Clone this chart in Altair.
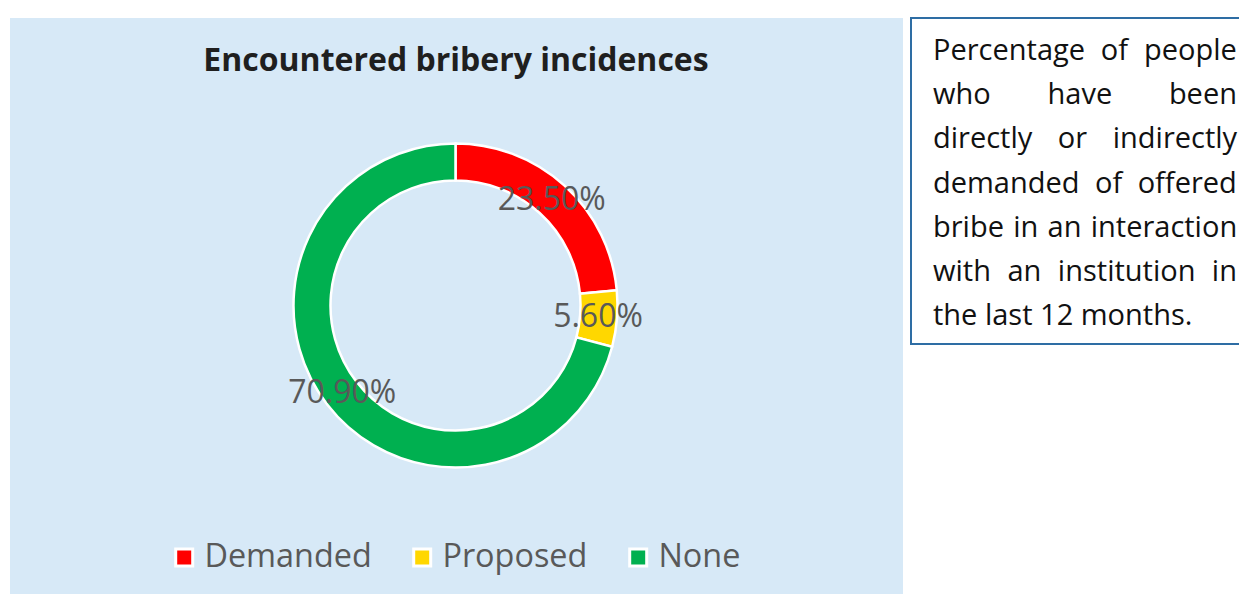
import altair as alt
import pandas as pd

# ---- data ----
categories = ["Demanded", "Proposed", "None"]
shares = [23.5, 5.6, 70.9]
share_labels = ["23.50%", "5.60%", "70.90%"]
colors = ["#FF0000", "#FFD700", "#00B050"]
title_text = "Encountered bribery incidences"
note_lines = [
    "Percentage of people",
    "who have been",
    "directly or indirectly",
    "demanded of offered",
    "bribe in an interaction",
    "with an institution in",
    "the last 12 months.",
]

# ---- layout ----
W, H = 1231, 586
CX, CY = 447.5, 297.5
FONT = "Open Sans"
NOTE_SIZE = 29
NOTE_LEFT, NOTE_RIGHT = 925, 1229
NOTE_BASE0, NOTE_STEP = 52, 44.2

# approximate Open Sans advance widths (em)
OS_W = {
    "a": .556, "b": .613, "c": .476, "d": .613, "e": .561, "f": .339, "g": .548,
    "h": .614, "i": .253, "j": .253, "k": .525, "l": .253, "m": .930, "n": .614,
    "o": .604, "p": .613, "q": .613, "r": .408, "s": .477, "t": .353, "u": .614,
    "v": .501, "w": .778, "x": .524, "y": .502, "z": .477, "P": .603, " ": .26,
    ".": .266, "1": .572, "2": .572,
}


def text_width(s, size):
    return sum(OS_W.get(ch, .55) for ch in s) * size


rows = []
for i, line in enumerate(note_lines):
    y = NOTE_BASE0 + i * NOTE_STEP
    words = line.split(" ")
    if i == len(note_lines) - 1 or len(words) == 1:
        rows.append({"word": line, "x": NOTE_LEFT, "y": y})
        continue
    widths = [text_width(w, NOTE_SIZE) for w in words]
    gap = (NOTE_RIGHT - NOTE_LEFT - sum(widths)) / (len(words) - 1)
    x = NOTE_LEFT
    for w, wd in zip(words, widths):
        rows.append({"word": w, "x": x, "y": y})
        x += wd + gap
note_df = pd.DataFrame(rows)

pie_df = pd.DataFrame({
    "category": categories,
    "share": shares,
    "label": share_labels,
    "idx": list(range(len(categories))),
})
one = pd.DataFrame({"a": [0]})

panel = alt.Chart(one).mark_rect(color="#D7E9F7").encode(
    x=alt.value(2), x2=alt.value(895), y=alt.value(10), y2=alt.value(H + 20)
)

box = alt.Chart(one).mark_rect(fill="white", stroke="#2E6DA4", strokeWidth=2).encode(
    x=alt.value(903), x2=alt.value(W + 20), y=alt.value(10), y2=alt.value(336)
)

title = alt.Chart(one).mark_text(
    text=title_text, font=FONT, fontSize=32, fontWeight="bold", color="#1F1F1F",
    align="center", baseline="alphabetic"
).encode(x=alt.value(448), y=alt.value(63))

base = alt.Chart(pie_df).encode(
    theta=alt.Theta("share:Q", stack=True),
    order=alt.Order("idx:Q"),
    detail=alt.Detail("category:N"),
    x=alt.value(CX),
    y=alt.value(CY),
)

arcs = base.mark_arc(outerRadius=162, innerRadius=125, stroke="white", strokeWidth=2.5).encode(
    color=alt.Color(
        "category:N",
        sort=categories,
        scale=alt.Scale(domain=categories, range=colors),
        legend=alt.Legend(
            orient="none", legendX=160, legendY=533, direction="horizontal",
            title=None, labelFontSize=32.4, labelFont=FONT, labelColor="#595959",
            labelLimit=0, symbolType="square", symbolSize=289,
            symbolStrokeColor="white", symbolStrokeWidth=3, symbolOpacity=1,
            labelOffset=4, columnPadding=34, padding=0,
        ),
    )
)

labels = base.mark_text(
    radius=143, font=FONT, fontSize=32, color="#595959", align="center", baseline="middle"
).encode(text="label:N")

note = alt.Chart(note_df).mark_text(
    font=FONT, fontSize=NOTE_SIZE, color="#111111", align="left", baseline="alphabetic"
).encode(
    x=alt.X("x:Q", scale=None, axis=None),
    y=alt.Y("y:Q", scale=None, axis=None),
    text="word:N",
)

chart = alt.layer(panel, box, title, arcs, labels, note).properties(
    width=W, height=H, autosize=alt.AutoSizeParams(type="none"), padding=0,
    background="white"
).configure_view(stroke=None)

chart.save("out.html", embed_options={"renderer": "svg", "actions": False})
